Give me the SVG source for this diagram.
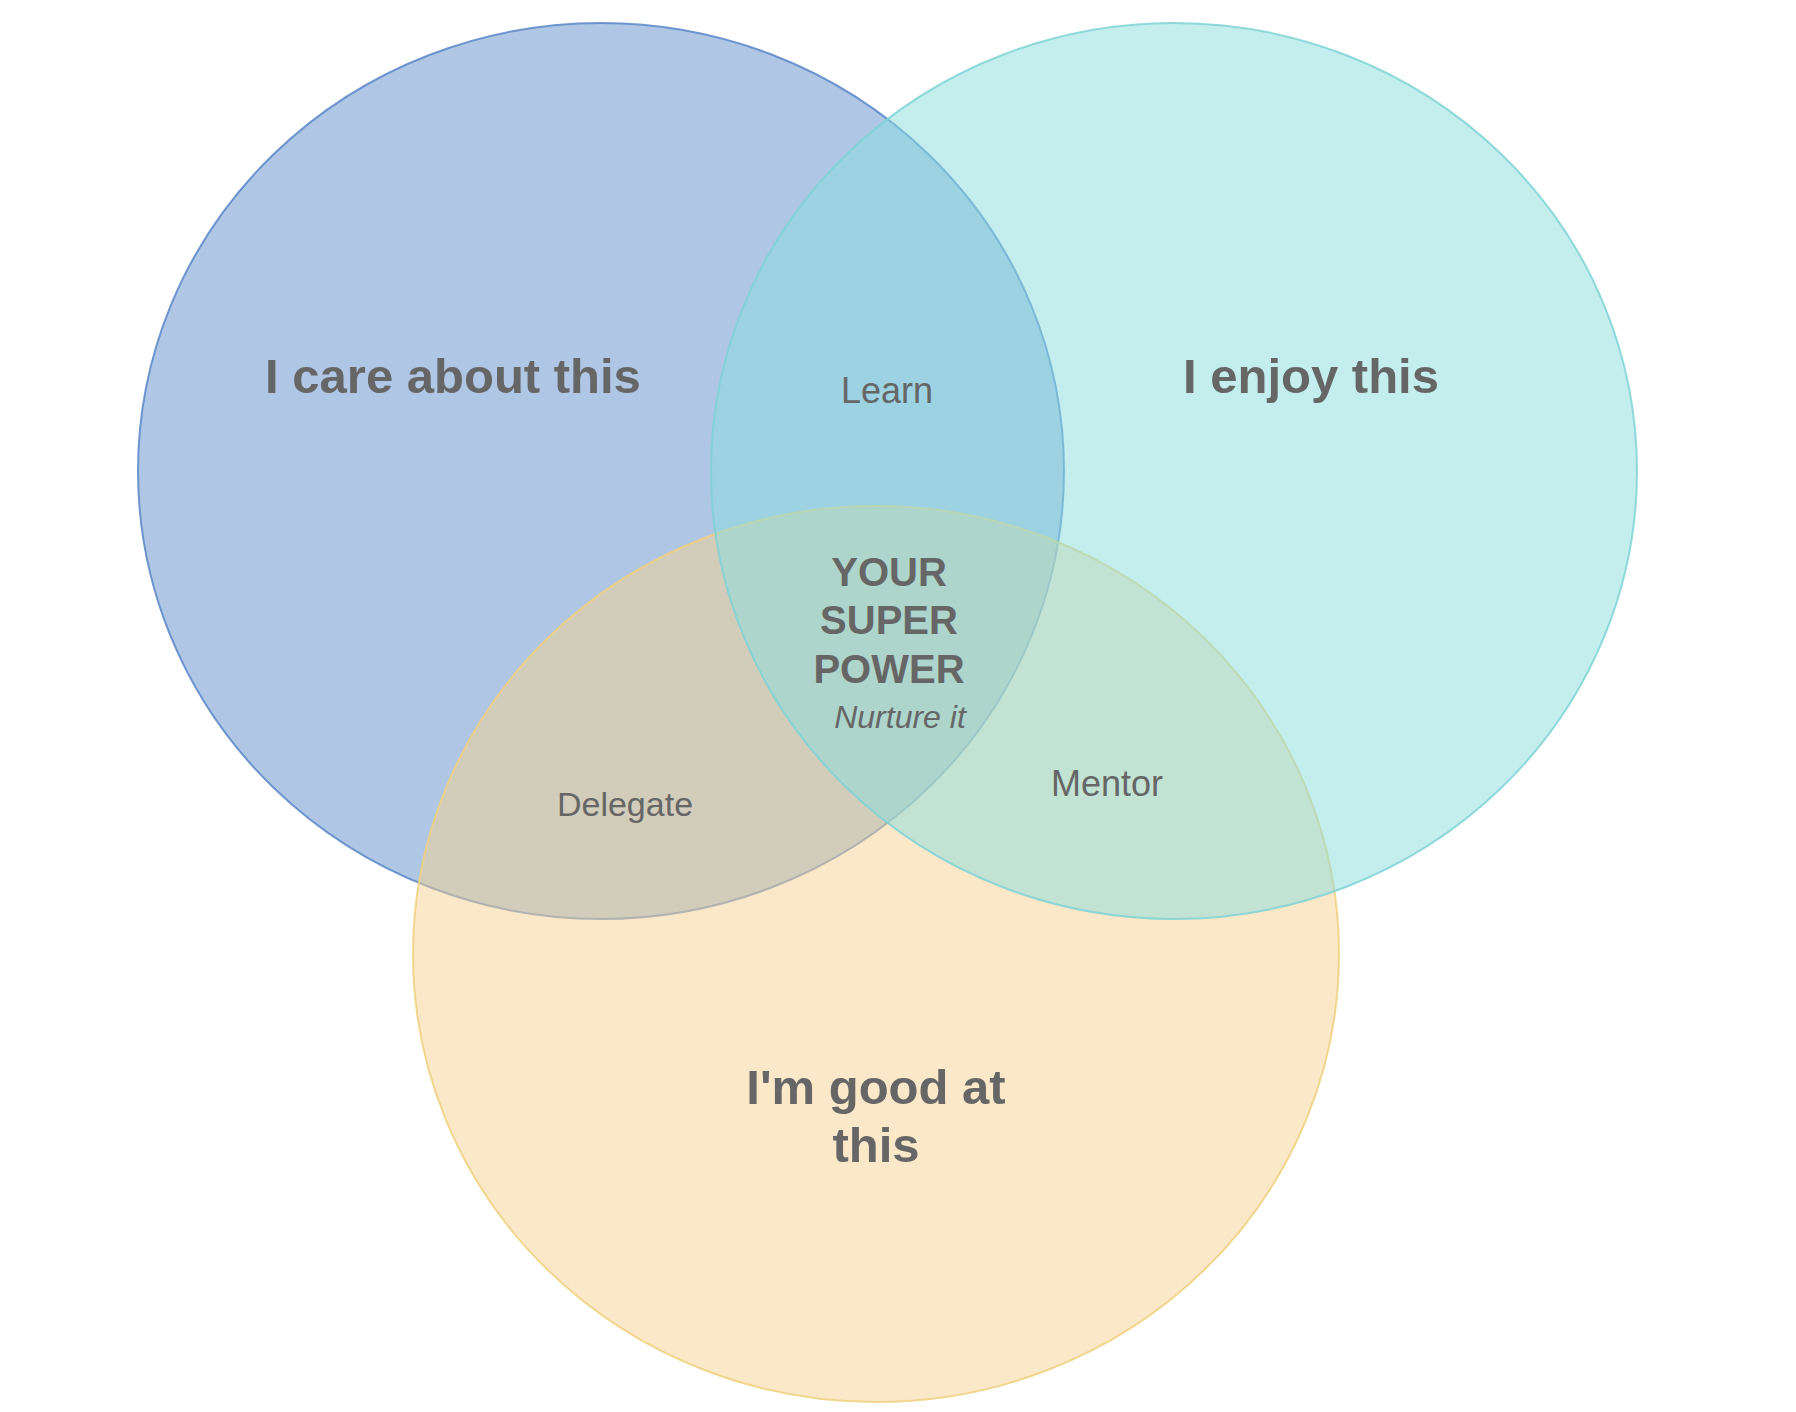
<svg xmlns="http://www.w3.org/2000/svg" width="1796" height="1412" viewBox="0 0 1796 1412">
  <style>
    .set { fill-opacity: 0.5; stroke-width: 2; stroke-opacity: 0.85; }
    .title { font-family: "Liberation Sans", Arial, sans-serif; font-weight: bold; font-size: 49px; fill: #666666; text-anchor: middle; }
    .core { font-family: "Liberation Sans", Arial, sans-serif; font-weight: bold; font-size: 40px; fill: #666666; text-anchor: middle; }
    .label { font-family: "Liberation Sans", Arial, sans-serif; font-size: 36px; fill: #666666; text-anchor: middle; }
    .note { font-family: "Liberation Sans", Arial, sans-serif; font-style: italic; font-size: 32px; fill: #666666; text-anchor: middle; }
  </style>
  <rect width="1796" height="1412" fill="#ffffff"/>
  <g id="care">
    <ellipse class="set" cx="601" cy="471" rx="463" ry="448" fill="#5f8fcb" stroke="#5b86c8"/>
  </g>
  <g id="good">
    <ellipse class="set" cx="876" cy="954" rx="463" ry="448" fill="#f5d191" stroke="#f0d07e"/>
  </g>
  <g id="enjoy">
    <ellipse class="set" cx="1174" cy="471" rx="463" ry="448" fill="#89dddd" stroke="#7fd2d6"/>
  </g>
  <g id="care-label">
    <text class="title" x="453" y="393">I care about this</text>
  </g>
  <g id="enjoy-label">
    <text class="title" x="1311" y="393">I enjoy this</text>
  </g>
  <g id="good-label">
    <text class="title" x="876" y="1104">I'm good at</text>
    <text class="title" x="876" y="1162">this</text>
  </g>
  <g id="learn">
    <text class="label" x="887" y="403">Learn</text>
  </g>
  <g id="delegate">
    <text class="label" x="625" y="816" style="font-size:34px">Delegate</text>
  </g>
  <g id="mentor">
    <text class="label" x="1107" y="796">Mentor</text>
  </g>
  <g id="superpower">
    <text class="core" x="889" y="586">YOUR</text>
    <text class="core" x="889" y="634">SUPER</text>
    <text class="core" x="889" y="683">POWER</text>
    <text class="note" x="900" y="728">Nurture it</text>
  </g>
</svg>
